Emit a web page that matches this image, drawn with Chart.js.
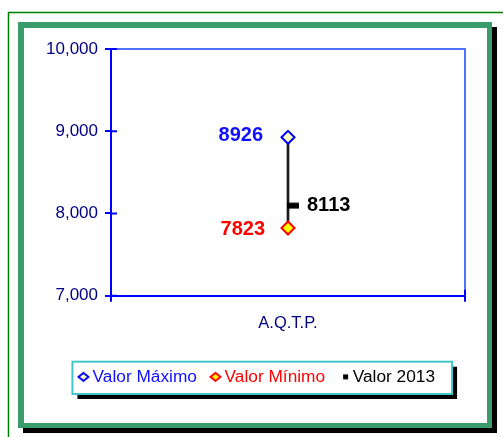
<!DOCTYPE html>
<html lang="es">
<head>
    <meta charset="UTF-8">
    <title>A.Q.T.P.</title>
    <script src="https://cdn.jsdelivr.net/npm/chart.js"></script>
    <style>
        body { margin: 0; background: #fff; }
        canvas { display: block; }
    </style>
</head>
<body>
    <canvas id="chart" width="503" height="437"></canvas>

    <script>
        // datos
        const categories = ["A.Q.T.P."];
        const valorMaximo = [8926];
        const valorMinimo = [7823];
        const valor2013 = [8113];
        const yMin = 7000, yMax = 10000, yStep = 1000;

        const FONT = "Arial, 'Liberation Sans', sans-serif";

        // marcador tipo guion (a la derecha de la linea)
        function dashIcon() {
            const c = document.createElement("canvas");
            c.width = 24; c.height = 10;
            const g = c.getContext("2d");
            g.fillStyle = "#000";
            g.fillRect(11, 3.5, 12, 6);
            return c;
        }

        // iconos de la leyenda, desplazados hacia el texto
        function legendIcon(kind) {
            const c = document.createElement("canvas");
            c.width = 22; c.height = 12;
            const g = c.getContext("2d");
            if (kind === "square") {
                g.fillStyle = "#000";
                g.fillRect(15, 3.5, 5, 5);
            } else {
                const cx = 15.5, cy = 6;
                g.beginPath();
                g.moveTo(cx - 5, cy); g.lineTo(cx, cy - 4);
                g.lineTo(cx + 5, cy); g.lineTo(cx, cy + 4);
                g.closePath();
                g.fillStyle = kind === "max" ? "#ffffc0" : "#ffff00";
                g.fill();
                g.lineWidth = 2;
                g.strokeStyle = kind === "max" ? "#0000ff" : "#ff0000";
                g.stroke();
            }
            return c;
        }

        const legendIcons = [legendIcon("max"), legendIcon("min"), legendIcon("square")];
        const legendColors = ["#1010ff", "#ff0000", "#000000"];

        const frame = {
            id: "frame",
            beforeDraw(chart) {
                const ctx = chart.ctx;
                ctx.save();
                ctx.fillStyle = "#fff";
                ctx.fillRect(0, 0, chart.width, chart.height);
                ctx.strokeStyle = "#008000";
                ctx.lineWidth = 1.5;
                ctx.strokeRect(8.5, 12.5, chart.width, chart.height);
                ctx.fillStyle = "#000";
                ctx.fillRect(23, 27, 474, 406);
                ctx.fillStyle = "#3a9b6b";
                ctx.fillRect(18, 22, 474, 406);
                ctx.fillStyle = "#fff";
                ctx.fillRect(24, 28, 463, 395);

                // caja de la leyenda
                const hb = chart.legend.legendHitBoxes;
                if (hb && hb.length) {
                    const l = Math.min(...hb.map(h => h.left)) - 1.5;
                    const r = Math.max(...hb.map(h => h.left + h.width)) + 17;
                    const t = hb[0].top - 6.5;
                    const b = hb[0].top + hb[0].height + 8.5;
                    ctx.fillStyle = "#000";
                    ctx.fillRect(l + 5, t + 5, r - l, b - t);
                    ctx.fillStyle = "#fff";
                    ctx.fillRect(l, t, r - l, b - t);
                    ctx.strokeStyle = "#40c8c8";
                    ctx.lineWidth = 2;
                    ctx.strokeRect(l, t, r - l, b - t);
                }
                ctx.restore();
            }
        };

        // borde superior/derecho y marcas interiores de los ejes
        const plotDecor = {
            id: "plotDecor",
            beforeDatasetsDraw(chart) {
                const ctx = chart.ctx, a = chart.chartArea, y = chart.scales.y;
                ctx.save();
                ctx.strokeStyle = "#4f72ff";
                ctx.lineWidth = 2;
                ctx.beginPath();
                ctx.moveTo(a.left, a.top); ctx.lineTo(a.right, a.top); ctx.lineTo(a.right, a.bottom);
                ctx.stroke();
                ctx.strokeStyle = "#0000ff";
                ctx.beginPath();
                y.ticks.forEach(t => {
                    const py = y.getPixelForValue(t.value);
                    ctx.moveTo(a.left, py); ctx.lineTo(a.left + 6, py);
                });
                ctx.moveTo(a.right, a.bottom); ctx.lineTo(a.right, a.bottom - 6);
                ctx.stroke();
                ctx.restore();
            }
        };

        const labelSpecs = [
            { ds: 0, color: "#1010ff", align: "right", dx: -25, dy: -1.5 },
            { ds: 1, color: "#ff0000", align: "right", dx: -23, dy: 1.5 },
            { ds: 2, color: "#000000", align: "left", dx: 19, dy: 1 }
        ];

        const valueLabels = {
            id: "valueLabels",
            afterDatasetsDraw(chart) {
                const ctx = chart.ctx;
                ctx.save();
                ctx.font = "bold 20px " + FONT;
                ctx.textBaseline = "middle";
                labelSpecs.forEach(s => {
                    const meta = chart.getDatasetMeta(s.ds);
                    meta.data.forEach((pt, i) => {
                        ctx.fillStyle = s.color;
                        ctx.textAlign = s.align;
                        ctx.fillText(String(chart.data.datasets[s.ds].data[i]), pt.x + s.dx, pt.y + s.dy);
                    });
                });
                ctx.restore();
            }
        };

        const ctx = document.getElementById("chart").getContext("2d");
        new Chart(ctx, {
            type: "bar",
            data: {
                labels: categories,
                datasets: [
                    {
                        type: "line", label: "Valor Máximo", data: valorMaximo, showLine: false,
                        pointStyle: "rectRot", pointRadius: 6.5, pointHoverRadius: 6.5,
                        pointBackgroundColor: "#ffffc0", pointBorderColor: "#0000ff", pointBorderWidth: 2,
                        order: 0
                    },
                    {
                        type: "line", label: "Valor Mínimo", data: valorMinimo, showLine: false,
                        pointStyle: "rectRot", pointRadius: 6.5, pointHoverRadius: 6.5,
                        pointBackgroundColor: "#ffff00", pointBorderColor: "#ff0000", pointBorderWidth: 2,
                        order: 1
                    },
                    {
                        type: "line", label: "Valor 2013", data: valor2013, showLine: false,
                        pointStyle: dashIcon(), pointRadius: 6, pointHoverRadius: 6,
                        order: 2
                    },
                    {
                        type: "bar", label: "rango",
                        data: categories.map((c, i) => [valorMinimo[i], valorMaximo[i]]),
                        backgroundColor: "#1a1a1a", barThickness: 2, order: 5
                    }
                ]
            },
            options: {
                responsive: false,
                animation: false,
                layout: { padding: { left: 44, right: 38, top: 49, bottom: 41.5 } },
                plugins: {
                    tooltip: { enabled: false },
                    legend: {
                        position: "bottom",
                        labels: {
                            usePointStyle: true,
                            boxWidth: 10,
                            boxHeight: 10,
                            padding: 9,
                            font: { family: FONT, size: 17.3 },
                            generateLabels: chart => chart.data.datasets.slice(0, 3).map((d, i) => ({
                                text: d.label,
                                fontColor: legendColors[i],
                                pointStyle: legendIcons[i],
                                fillStyle: "#fff",
                                strokeStyle: "#fff",
                                lineWidth: 0,
                                hidden: false,
                                datasetIndex: i
                            }))
                        }
                    }
                },
                scales: {
                    x: {
                        grid: { drawOnChartArea: false, tickLength: 6, color: "#0000ff", lineWidth: 2 },
                        border: { color: "#0000ff", width: 2 },
                        ticks: { color: "#000080", font: { family: FONT, size: 16.5 }, padding: 12 },
                        afterFit(s) { s.height = 63.5; s.paddingLeft = 0; s.paddingRight = 0; }
                    },
                    y: {
                        min: yMin, max: yMax,
                        grid: { drawOnChartArea: false, tickLength: 6, color: "#0000ff", lineWidth: 2 },
                        border: { color: "#0000ff", width: 2 },
                        ticks: {
                            stepSize: yStep, padding: 7, color: "#000080",
                            font: { family: FONT, size: 17 },
                            callback: v => v.toLocaleString("en-US")
                        },
                        afterFit(s) { s.width = 67; s.paddingTop = 0; s.paddingBottom = 0; }
                    }
                }
            },
            plugins: [frame, plotDecor, valueLabels]
        });
    </script>
</body>
</html>
